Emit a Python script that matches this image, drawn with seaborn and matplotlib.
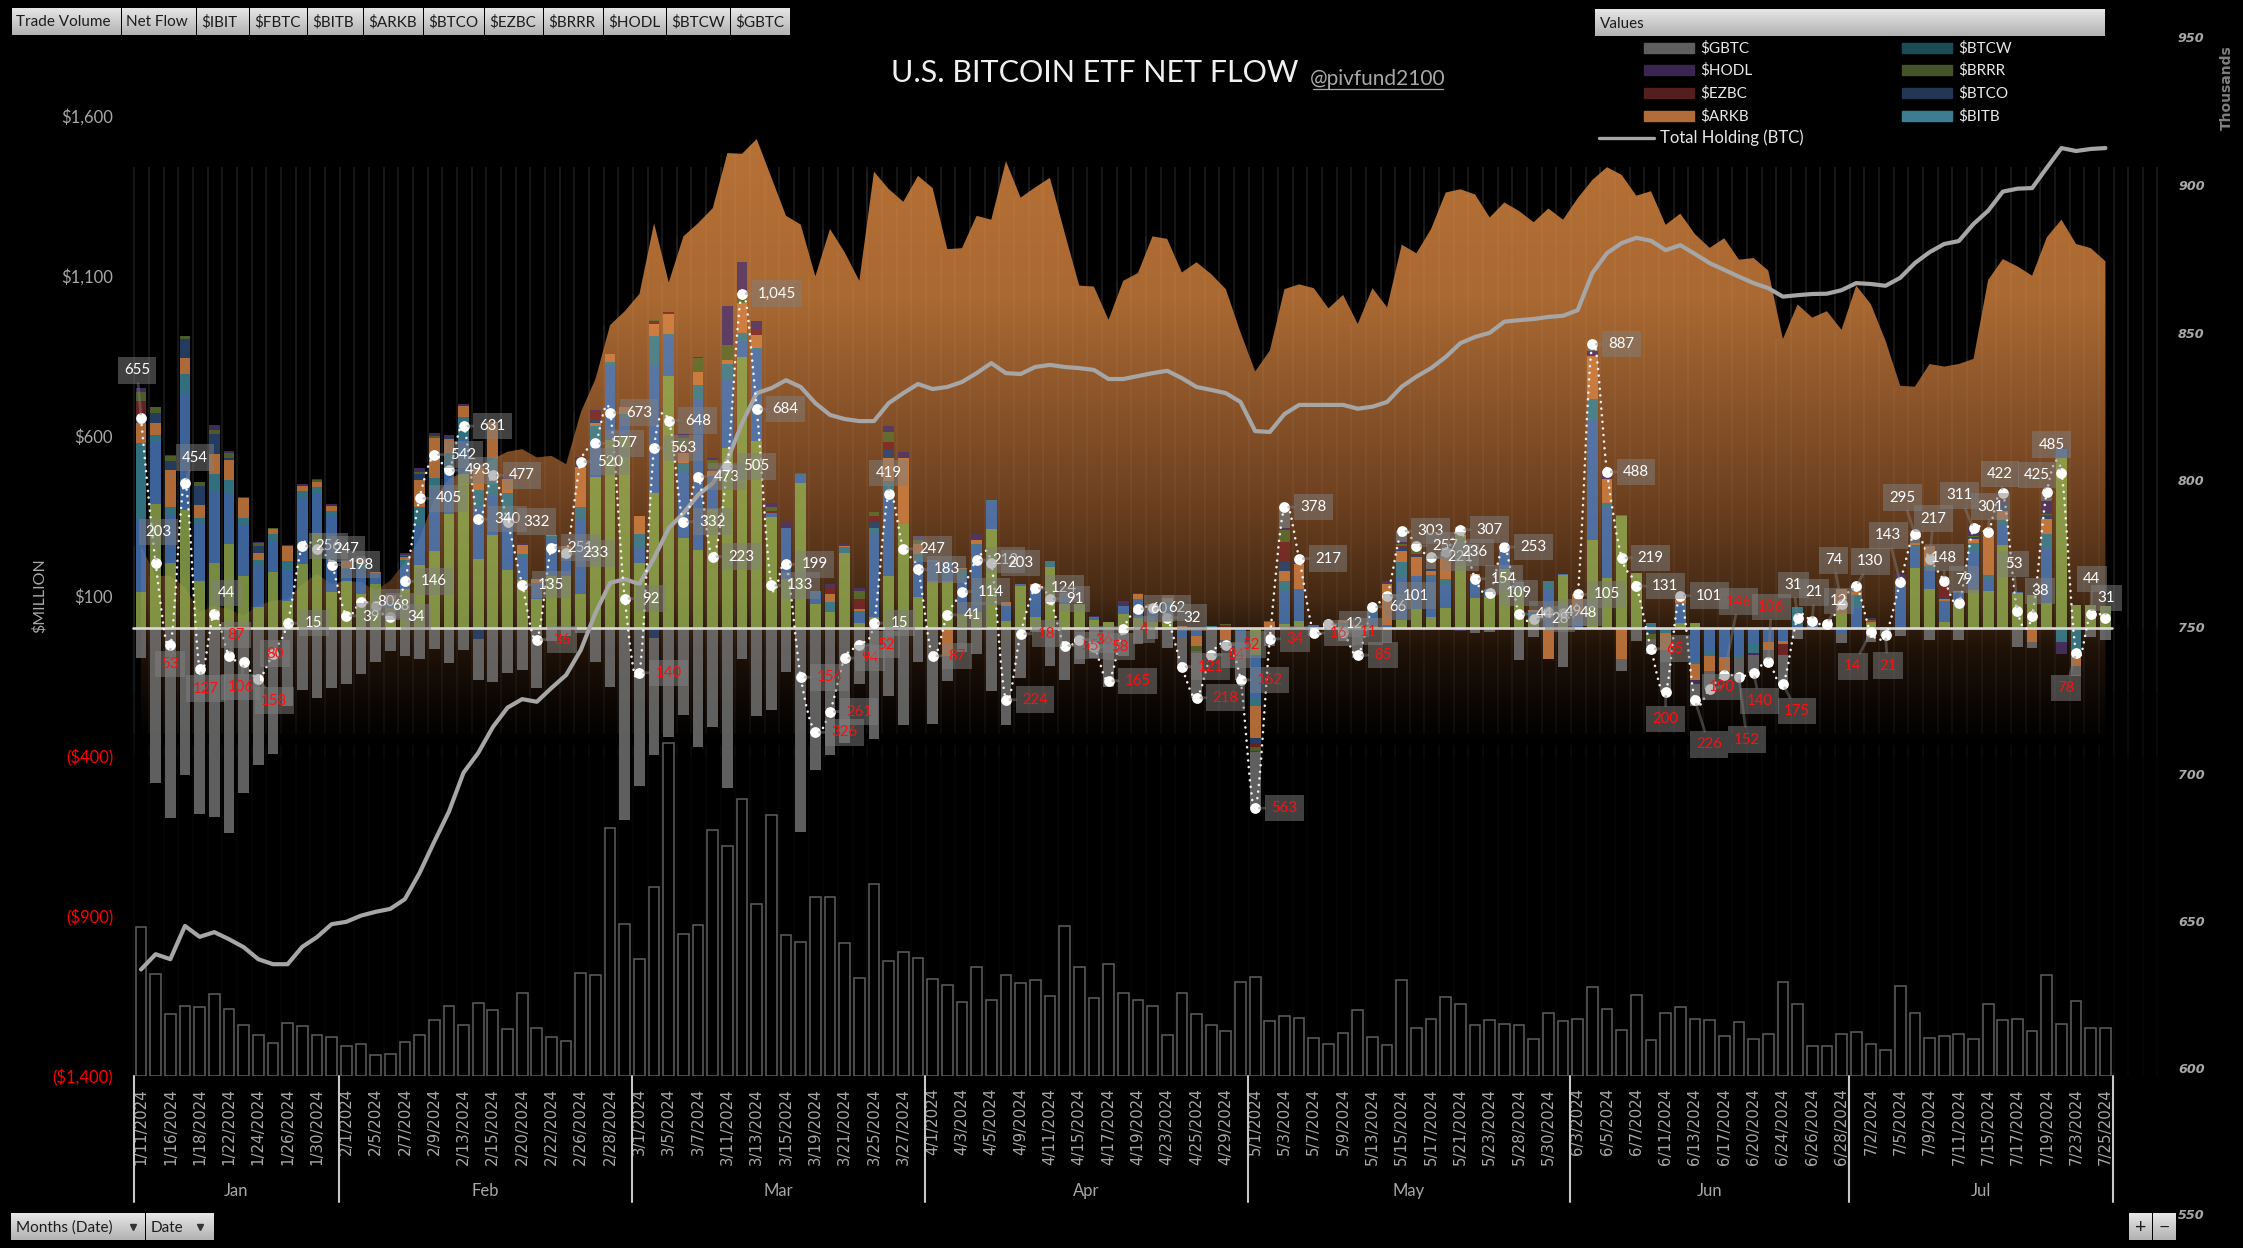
#!/usr/bin/env python
"""
U.S. Bitcoin ETF net flow dashboard, values read off the picture.
"""
# Third-party
import matplotlib

matplotlib.use("Agg")
import matplotlib.pyplot as plt
import numpy as np
import seaborn as sns
from matplotlib.patches import PathPatch, Rectangle
from matplotlib.path import Path

# One bar per trading day, 1/11/2024 to 7/25/2024; every second day is labelled
tick_dates = [
    "1/11", "1/16", "1/18", "1/22", "1/24", "1/26", "1/30",
    "2/1", "2/5", "2/7", "2/9", "2/13", "2/15", "2/20", "2/22", "2/26", "2/28",
    "3/1", "3/5", "3/7", "3/11", "3/13", "3/15", "3/19", "3/21", "3/25", "3/27",
    "4/1", "4/3", "4/5", "4/9", "4/11", "4/15", "4/17", "4/19", "4/23", "4/25", "4/29",
    "5/1", "5/3", "5/7", "5/9", "5/13", "5/15", "5/17", "5/21", "5/23", "5/28", "5/30",
    "6/3", "6/5", "6/7", "6/11", "6/13", "6/17", "6/20", "6/24", "6/26", "6/28",
    "7/2", "7/5", "7/9", "7/11", "7/15", "7/17", "7/19", "7/23", "7/25",
]
months = ["Jan", "Feb", "Mar", "Apr", "May", "Jun", "Jul"]
month_starts = [0, 14, 34, 54, 76, 98, 117, 135]

ibit = [
    112, 386, 204, 370, 148, 203, 262, 161, 66, 174,
    84, 200, 298, 114, 148, 106, 137, 62, 122, 197,
    240, 357, 480, 217, 290, 182, 150, 92, 162, 162,
    107, 472, 589, 600, 203, 421, 788, 280, 243, 371,
    561, 848, 585, 346, 153, 452, 75, 49, 234, 17,
    33, 161, 325, 98, 148, 148, 44, 49, 309, 21,
    132, 33, 192, 75, 75, 26, 18, 44, 30, 18,
    30, 0, 0, 0, 0, 0, -85, 0, 12, 22,
    0, 8, 5, 8, 6, 0, 25, 59, 35, 64,
    290, 93, 98, 184, 130, 30, 0, 165, 0, 275,
    156, 350, 168, 0, 0, 15, 17, 0, 0, 0,
    0, 0, 0, 0, 0, 12, 47, 0, 15, 0,
    0, 186, 122, 20, 83, 118, 117, 258, 110, 102,
    77, 531, 72, 70, 70,
]
fbtc = [
    227, 196, 148, 360, 177, 223, 156, 158, 127, 99,
    96, 206, 120, 236, 36, 83, 36, 16, 73, 125,
    190, 145, 110, 158, 125, 150, 70, 50, 115, 75,
    235, 120, 233, 55, 49, 402, 126, 206, 473, 104,
    215, 49, 285, 14, 160, 23, 42, 0, 0, 31,
    263, 270, 0, 112, 64, 59, 114, 208, 88, 47,
    5, 94, 0, 34, 0, 0, 0, 26, 60, 45,
    40, -28, -26, 0, 0, -70, -130, 0, 104, 101,
    9, 0, 5, 0, 40, 9, 130, 102, 122, 67,
    0, 55, 23, 52, 10, 15, 120, 5, 38, 378,
    220, 2, 0, 0, 0, 64, -104, -76, -90, -84,
    -47, -44, -40, 5, 21, 0, -20, 62, 0, 3,
    144, 64, 62, 65, 29, 118, 34, 62, 1, 0,
    174, 28, 0, 0, 0,
]
bitb = [
    238, 22, 25, 65, 19, 55, 44, 25, 18, 21,
    29, 21, 23, 16, 5, 10, 0, 5, 16, 55,
    40, 45, 70, 55, 115, 90, 10, 0, 10, 0,
    35, 40, 10, 15, 42, 90, 5, 29, 42, 0,
    50, 26, 5, 0, 0, 5, 0, 31, 18, 5,
    15, 28, 0, 21, 0, 0, 26, 5, 3, 0,
    0, 0, 18, 0, 0, 7, 0, 0, 0, 0,
    10, 0, 0, 7, 0, 0, -28, 0, 31, 0,
    0, 0, 5, 0, 15, 0, 52, 0, 10, 21,
    0, 0, 0, 0, 0, 5, 26, 0, 2, 62,
    16, 0, 0, 15, -15, 0, -8, -10, 0, -8,
    -31, 0, 0, 60, 0, 0, 0, 41, 0, 0,
    0, 9, 10, 0, 0, 31, 16, 16, 0, 0,
    44, -44, -73, 0, 0,
]
arkb = [
    65, 38, 117, 49, 41, 62, 62, 63, 24, 15,
    48, 18, 16, 16, 21, 21, 2, 21, 10, 85,
    125, 45, 35, 70, 115, 45, 28, 10, 5, 20,
    125, 10, 25, 22, 57, 36, 62, 33, 42, 16,
    13, 94, 42, 0, 0, 0, 0, 26, 5, 5,
    0, 72, 206, 31, 0, -86, 5, 13, 0, 12,
    0, 10, 0, 0, 0, 0, 0, 0, 15, 12,
    15, 7, -31, 0, -36, 0, -100, 18, 31, 76,
    0, 4, 10, 0, 5, 128, 35, 62, 10, 68,
    0, 21, 0, 0, 5, 5, -98, 0, 65, 134,
    73, -97, 5, 0, -55, 10, -52, -48, -45, 0,
    0, -26, -10, 0, 0, 0, 74, 10, 5, 0,
    0, 8, 61, 5, 5, 10, 120, 29, 0, -44,
    45, 0, -47, 3, 0,
]
btco = [
    17, 30, 28, 59, 58, 62, 8, 0, 21, 0,
    0, 0, 0, 0, 0, 5, 0, 0, 5, 20,
    0, 3, 2, -35, 0, 0, 0, 0, 0, 0,
    15, 10, 0, 0, 0, -30, 0, 0, 0, 0,
    0, 0, 0, 0, 0, 0, 0, 0, 3, 0,
    19, 25, 0, 0, 0, 0, 0, 0, 0, 0,
    0, 0, 0, 0, 0, 0, 0, 0, 0, 0,
    0, 0, 0, 0, 4, 0, -15, 0, 31, 0,
    0, 0, 0, 0, 0, 0, 10, 4, 5, 0,
    0, 0, 0, 0, 0, 0, 0, 0, 0, 5,
    0, 0, 0, -18, 0, 0, 0, 0, 0, 0,
    0, 0, 0, 0, 0, 0, 0, 0, 0, 0,
    0, 0, 0, 5, 0, 4, 0, 30, 0, 0,
    12, 8, 0, 0, 0,
]
ezbc = [
    50, 0, 0, 0, 0, 0, 0, 0, 0, 0,
    0, 0, 0, 0, 0, 0, 0, 0, 0, 0,
    0, 0, 0, 0, 0, 0, 0, 0, 0, 0,
    0, 22, 0, 0, 3, 9, 5, 12, 0, 5,
    0, 0, 17, 5, 0, 0, 0, 21, 0, 33,
    19, 25, 0, 0, 0, 0, 0, 0, 0, 0,
    0, 0, 0, 0, 0, 0, 0, 0, 0, 0,
    0, 0, 0, 0, 4, 0, -15, 0, 60, 0,
    0, 0, 0, 0, 0, 0, 5, 4, 0, 0,
    0, 0, 0, 0, 0, 0, 0, 0, 0, 0,
    0, 0, 0, 0, 0, 0, 0, 0, 0, 0,
    0, 0, -35, 0, 0, 0, 0, 0, 0, 0,
    0, 0, 0, 42, 0, 4, 0, 10, 0, 0,
    0, 0, 0, 0, 0,
]
brrr = [
    29, 18, 15, 9, 12, 14, 14, 0, 10, 5,
    0, 0, 5, 0, 0, 0, 0, 0, 3, 5,
    6, 0, 0, 0, 0, 0, 0, 0, 0, 0,
    0, 0, 0, 0, 0, 3, 0, 33, 43, 30,
    44, 30, 0, 12, 0, 4, 0, 0, 0, 26,
    12, 30, 0, 13, 0, 0, 0, 0, 0, 0,
    0, 0, 0, 0, 0, 0, 0, 0, 0, 0,
    0, 0, -15, 0, 4, 0, -10, 3, 36, 0,
    0, 0, 0, 0, 0, 0, 5, 20, 0, 0,
    0, 0, 0, 0, 0, 0, 0, 0, 0, 0,
    0, 0, 0, -15, 0, 0, 0, 0, 0, 0,
    0, 0, 0, 0, 0, 0, 0, 0, 5, 0,
    0, 0, 0, 0, 0, 4, 0, 0, 0, 0,
    5, 0, 0, 0, 0,
]
hodl = [
    11, 0, 5, 0, 0, 15, 8, 2, 4, 0,
    2, 5, 5, 5, 3, 0, 0, 2, 4, 14,
    7, 8, 2, 1, 0, 5, 8, 0, 0, 0,
    18, 8, 0, 0, 0, 0, 0, 12, 3, 6,
    122, 96, 24, 13, 22, 0, 0, 9, 4, 7,
    0, 20, 18, 13, 0, 0, 0, 18, 0, 0,
    0, 0, 0, 0, 0, 3, 0, 15, 5, 0,
    0, 0, 0, 0, 0, 0, 0, 0, 8, 18,
    0, 0, 0, 0, 0, 10, 8, 6, 2, 0,
    -8, 0, 0, 0, 0, 0, 0, 0, 0, 12,
    23, 0, 0, 0, 0, 0, -12, 0, 0, 0,
    -5, 0, 0, 0, 0, 0, 0, 0, 5, 0,
    25, 0, 0, 11, 0, 22, 0, 17, 0, 0,
    41, -38, 0, 0, 0,
]
btcw = [
    1, 0, 0, 0, 0, 0, 0, 0, 0, 0,
    0, 0, 0, 0, 0, 0, 0, 0, 0, 0,
    0, 0, 0, 0, 0, 0, 0, 0, 0, 0,
    0, 0, 0, 0, 0, 0, 2, 0, 0, 0,
    0, 0, 0, 0, 0, 0, 0, 0, 0, 0,
    0, 0, 0, 0, 0, 0, 0, 0, 0, 0,
    0, 0, 0, 0, 0, 0, 0, 0, 0, 0,
    0, 0, 0, 0, 0, 0, -5, 0, 0, 0,
    0, 0, 0, 0, 0, 0, 0, 0, 0, 0,
    0, 0, 0, 0, 0, 0, 0, 0, 0, 0,
    0, 0, 0, 0, 0, 0, 0, 0, 0, 0,
    0, 0, 0, 0, 0, 0, 0, 0, 0, 0,
    0, 0, 0, 0, 0, 0, 0, 0, 0, 0,
    0, 0, 0, 0, 0,
]
gbtc = [
    -95, -484, -594, -459, -581, -590, -641, -515, -428, -394,
    -243, -194, -220, -189, -174, -145, -107, -72, -87, -96,
    -66, -110, -68, -126, -168, -140, -131, -188, -41, -24,
    -15, -105, -184, -600, -494, -368, -340, -273, -373, -309,
    -500, -98, -274, -257, -136, -638, -443, -397, -358, -176,
    -346, -212, -302, -105, -299, -80, -75, -81, -197, -304,
    -155, -13, -119, -164, -111, -94, -183, -89, -50, -33,
    -63, -100, -146, -91, -28, -92, -175, -55, 65, 0,
    -25, 0, -41, -93, 0, -46, 33, 0, 37, 16,
    25, -15, -12, 17, -101, -27, 0, -122, 0, 21,
    0, -36, -42, -47, -130, 12, -67, -56, -11, -60,
    -57, -36, -90, -34, 0, 0, -27, 17, -44, -24,
    -26, 28, -38, 0, -38, 0, 14, 0, -58, -20,
    27, 0, -30, -29, -39,
]
net_flow = [
    655, 203, -53, 454, -127, 44, -87, -106, -158, -80,
    15, 256, 247, 198, 39, 80, 68, 34, 146, 405,
    542, 493, 631, 340, 477, 332, 135, -36, 251, 233,
    520, 577, 673, 92, -140, 563, 648, 332, 473, 223,
    505, 1045, 684, 133, 199, -154, -326, -261, -94, -52,
    15, 419, 247, 183, -87, 41, 114, 212, 203, -224,
    -18, 124, 91, -55, -36, -58, -165, -4, 60, 62,
    32, -121, -218, -84, -52, -162, -563, -34, 378, 217,
    -16, 12, -11, -85, 66, 101, 303, 257, 221, 236,
    307, 154, 109, 253, 44, 28, 49, 48, 105, 887,
    488, 219, 131, -65, -200, 101, -226, -190, -146, -152,
    -140, -106, -175, 31, 21, 12, 74, 130, -14, -21,
    143, 295, 217, 148, 79, 311, 301, 422, 53, 38,
    425, 485, -78, 44, 31,
]
# Trade volume, $ billions
volume = [
    4.48, 3.07, 1.87, 2.11, 2.08, 2.47, 2.02, 1.54, 1.24, 1.00,
    1.60, 1.51, 1.24, 1.18, 0.91, 0.97, 0.64, 0.67, 1.03, 1.24,
    1.69, 2.11, 1.54, 2.20, 1.99, 1.42, 2.50, 1.45, 1.18, 1.06,
    3.10, 3.04, 7.45, 4.57, 3.52, 5.68, 9.98, 4.27, 4.54, 7.39,
    6.91, 8.32, 5.17, 7.84, 4.24, 4.03, 5.38, 5.38, 4.00, 2.95,
    5.77, 3.46, 3.73, 3.55, 2.92, 2.74, 2.23, 3.28, 2.29, 3.04,
    2.80, 2.89, 2.41, 4.51, 3.28, 2.35, 3.37, 2.50, 2.29, 2.11,
    1.24, 2.50, 1.87, 1.54, 1.36, 2.83, 2.98, 1.66, 1.81, 1.75,
    1.15, 0.97, 1.30, 1.99, 1.18, 0.94, 2.89, 1.45, 1.72, 2.38,
    2.17, 1.54, 1.69, 1.57, 1.54, 1.12, 1.90, 1.66, 1.72, 2.68,
    2.02, 1.39, 2.44, 1.09, 1.90, 2.08, 1.72, 1.69, 1.21, 1.63,
    1.12, 1.27, 2.83, 2.17, 0.91, 0.91, 1.27, 1.33, 0.97, 0.79,
    2.71, 1.90, 1.15, 1.21, 1.27, 1.12, 2.17, 1.69, 1.72, 1.36,
    3.04, 1.57, 2.26, 1.45, 1.45,
]
# Total holding, thousands of BTC
holding = [
    633.5, 638.7, 637.0, 648.3, 644.6, 646.2, 643.8, 641.1, 637.0, 635.3,
    635.3, 641.2, 644.5, 648.9, 649.7, 651.8, 653.1, 654.1, 657.4, 666.3,
    676.9, 687.1, 700.4, 707.1, 715.9, 722.5, 725.4, 724.5, 729.2, 733.6,
    742.1, 754.7, 764.9, 766.2, 764.5, 773.4, 783.5, 788.6, 794.8, 798.8,
    806.7, 819.2, 829.4, 831.1, 833.8, 831.5, 826.0, 822.0, 820.6, 819.9,
    819.9, 826.0, 829.4, 832.5, 830.8, 831.5, 833.2, 836.2, 839.6, 836.2,
    835.9, 838.3, 839.0, 838.3, 837.9, 837.3, 834.2, 834.2, 835.2, 836.2,
    837.0, 834.5, 831.5, 830.5, 829.4, 826.4, 816.5, 816.2, 822.3, 825.4,
    825.4, 825.4, 825.4, 824.1, 824.8, 826.4, 831.6, 835.0, 837.9, 841.7,
    846.4, 848.5, 849.9, 853.7, 854.2, 854.6, 855.3, 855.7, 857.6, 870.2,
    877.0, 880.4, 882.2, 881.2, 878.0, 879.7, 876.7, 873.6, 871.3, 869.0,
    866.8, 865.1, 862.2, 862.7, 863.1, 863.2, 864.4, 866.8, 866.5, 865.9,
    868.6, 873.6, 877.3, 880.1, 881.1, 886.9, 891.4, 897.9, 898.9, 899.1,
    906.0, 912.7, 911.7, 912.4, 912.7,
]
# Orange backdrop, in left axis units
backdrop = [
    257, 163, 163, 127, 49, 70, 59, 38, 70, 85,
    90, 137, 169, 137, 148, 143, 117, 148, 205, 278,
    403, 466, 486, 507, 528, 551, 559, 533, 538, 512,
    674, 778, 947, 990, 1044, 1265, 1080, 1224, 1265, 1312,
    1484, 1482, 1528, 1408, 1288, 1261, 1099, 1247, 1174, 1085,
    1426, 1372, 1332, 1413, 1375, 1184, 1187, 1288, 1276, 1459,
    1345, 1377, 1407, 1236, 1070, 1067, 963, 1085, 1109, 1224,
    1216, 1111, 1143, 1106, 1059, 924, 802, 867, 1059, 1074,
    1062, 999, 1041, 950, 1062, 1002, 1198, 1171, 1247, 1361,
    1371, 1355, 1283, 1330, 1303, 1268, 1311, 1276, 1343, 1400,
    1440, 1416, 1351, 1365, 1260, 1295, 1231, 1188, 1218, 1151,
    1156, 1117, 903, 1011, 970, 990, 932, 1070, 1012, 898,
    757, 754, 825, 817, 825, 841, 1088, 1153, 1130, 1101,
    1221, 1276, 1200, 1187, 1146,
]

# Setup
W, H = 2243, 1248
LEFT_PX, RIGHT_PX, TOP_PX, BOTTOM_PX = 120, 2172, 116, 1076
FIRST_BAR_PX, BAR_STEP_PX = 141, 14.66
FONT = "Lato"
GREY = "#a8a8a8"

sns.set_theme(
    style="dark",
    rc={
        "figure.facecolor": "black",
        "axes.facecolor": "black",
        "axes.grid": False,
        "savefig.facecolor": "black",
    },
)
plt.rcParams["font.family"] = [FONT, "DejaVu Sans"]

days = list(range(len(net_flow)))

# Label offsets from the dots in pixels, anything not listed sits to the right
label_shift = {
    0: (-4, -48), 1: (3, -31), 2: (0, 19), 3: (10, -25), 4: (6, 20), 5: (12, -21),
    6: (7, -21), 7: (-3, 25), 8: (16, 22), 9: (2, 0), 10: (26, 0), 11: (26, 0),
    14: (25, 1), 15: (25, 0), 16: (25, 0), 17: (26, 0), 27: (25, 0), 33: (26, 0),
    41: (35, 0), 48: (25, 0), 49: (26, 0), 50: (26, 0), 51: (0, -21), 54: (24, 0),
    55: (25, 0), 60: (26, 0), 62: (25, 0), 63: (25, 0), 64: (25, 0), 65: (26, 0),
    67: (21, 0), 68: (21, 0), 69: (24, 0), 70: (25, 0), 73: (25, 0), 74: (25, 0),
    77: (25, 0), 80: (25, 0), 81: (26, 0), 82: (25, 0), 83: (25, 0), 84: (25, 0),
    94: (25, 0), 95: (26, 0), 96: (25, 0), 97: (25, 0), 103: (24, 0), 104: (0, 27),
    106: (14, 44), 107: (12, -2), 108: (14, -73), 109: (8, 63), 110: (6, 28),
    111: (3, -55), 112: (14, 27), 113: (-4, -33), 114: (2, -29), 115: (12, -23),
    116: (-8, -44), 117: (14, -25), 118: (-18, 34), 119: (2, 31), 120: (-12, -47),
    121: (-12, -36), 122: (4, -40), 123: (0, -23), 124: (5, -23), 125: (-14, -33),
    126: (2, -25), 127: (-3, -19), 128: (-4, -47), 129: (8, -25), 130: (-10, -17),
    131: (-10, -28), 132: (-10, 35), 133: (1, -35), 134: (1, -20),
}


def smooth_path(xs, ys):
    """
    Bezier path through the points, like a smoothed spreadsheet line.
    """
    pts = np.column_stack([xs, ys]).astype(float)
    verts = [pts[0]]
    codes = [Path.MOVETO]
    for i in range(len(pts) - 1):
        before = pts[max(i - 1, 0)]
        after = pts[min(i + 2, len(pts) - 1)]
        verts += [
            pts[i] + (pts[i + 1] - before) / 6,
            pts[i + 1] - (after - pts[i]) / 6,
            pts[i + 1],
        ]
        codes += [Path.CURVE4] * 3
    return Path(verts, codes)


def add_button(axis, x0, x1, y0, y1, text="", size=11, ha="left"):
    """
    Draw one of the grey pivot chart buttons, in pixel coordinates.
    """
    fade = np.linspace(0.9, 0.7, 32).reshape(-1, 1)
    axis.imshow(
        fade,
        extent=(x0, x1, y1, y0),
        aspect="auto",
        cmap="gray",
        vmin=0,
        vmax=1,
        zorder=2,
    )
    if text:
        x_text = x0 + 5 if ha == "left" else (x0 + x1) / 2
        axis.text(
            x_text, (y0 + y1) / 2 + 1, text, color="#1c1c1c", fontsize=size,
            ha=ha, va="center", zorder=3,
        )


def hide_frame(axis):
    """
    Drop the frame and the grid of an axes.
    """
    axis.grid(False)
    for spine in axis.spines.values():
        spine.set_visible(False)


fig = plt.figure(figsize=(W / 100, H / 100), dpi=100)
ax = fig.add_axes(
    [
        LEFT_PX / W,
        (H - BOTTOM_PX) / H,
        (RIGHT_PX - LEFT_PX) / W,
        (BOTTOM_PX - TOP_PX) / H,
    ]
)

# Thin stripes between the days, they die away towards the floor of the chart
stripes = np.arange(0, 139) - 0.45
ax.vlines(stripes, 0, 1440, color="white", alpha=0.09, linewidth=1.4, zorder=0.5)
ax.vlines(stripes, -200, 0, color="white", alpha=0.06, linewidth=1.4, zorder=0.5)
ax.vlines(stripes, -400, -200, color="white", alpha=0.04, linewidth=1.4, zorder=0.5)
ax.vlines(stripes, -1400, -400, color="white", alpha=0.025, linewidth=1.4, zorder=0.5)

# Backdrop: a vertical fade clipped to the outline of the series
fade_values = [1600, 1535, 1035, 722, 410, 98, -60, -250, -365]
fade_colors = np.array(
    [
        [182, 113, 54], [182, 113, 54], [170, 105, 50], [140, 85, 42], [110, 65, 32],
        [70, 42, 20], [32, 18, 8], [10, 6, 4], [0, 0, 0],
    ]
)
rows = np.linspace(1600, -365, 400)
fade = np.stack(
    [np.interp(-rows, -np.array(fade_values), fade_colors[:, c]) for c in range(3)],
    axis=-1,
)[:, None, :] / 255
outline = ax.fill_between(days, backdrop, -365, facecolor="none", edgecolor="none")
image = ax.imshow(
    fade, extent=(-1, 136, -365, 1600), aspect="auto", zorder=1, interpolation="bilinear"
)
image.set_clip_path(outline.get_paths()[0], transform=ax.transData)
ax.vlines(
    stripes[:135], -330, np.array(backdrop), color="white", alpha=0.04, linewidth=1.4, zorder=1.5
)

# Stacked flows, positive and negative parts build away from zero separately
stack = [
    (ibit, "#94af51"),
    (fbtc, "#4b7dc2"),
    (bitb, "#3f8c9f"),
    (arkb, "#d98545"),
    (btco, "#2c4a78"),
    (ezbc, "#7f2a2a"),
    (brrr, "#5f7430"),
    (hodl, "#4f3570"),
    (btcw, "#1f5f70"),
    (gbtc, "#787878"),
]
up = np.zeros(len(days))
down = np.zeros(len(days))
for values, color in stack:
    values = np.array(values, dtype=float)
    start = np.where(values >= 0, up, down)
    sns.barplot(
        x=days,
        y=values,
        bottom=start,
        color=color,
        saturation=1,
        width=0.73,
        alpha=0.8,
        linewidth=0,
        errorbar=None,
        zorder=3,
        ax=ax,
    )
    up = up + np.clip(values, 0, None)
    down = down + np.clip(values, None, 0)

ax.axhline(0, color="#d8d8d8", linewidth=1.9, zorder=4, xmin=(133 - 120) / 2052, xmax=(2112 - 120) / 2052)

ax.set_ylim(-1400, 1600)
left_ticks = [-1400, -900, -400, 100, 600, 1100, 1600]
left_labels = ["($1,400)", "($900)", "($400)", "$100", "$600", "$1,100", "$1,600"]
ax.set_yticks(left_ticks, left_labels)
for label, value in zip(ax.get_yticklabels(), left_ticks):
    label.set_color("#ff0000" if value < 0 else GREY)
ax.tick_params(axis="y", length=0, pad=5, labelsize=12)
ax.set_xticks(days[::2], [f"{d}/2024" for d in tick_dates])
ax.tick_params(axis="x", length=0, pad=8.6, labelsize=10.8, labelcolor=GREY, rotation=90)
for label in ax.get_xticklabels():
    label.set_fontfamily("DejaVu Sans")
ax.set_xlabel("")
ax.set_ylabel("")
hide_frame(ax)

# Trade volume sits on the floor of the chart with its own scale
ax_volume = ax.twinx()
sns.barplot(
    x=days,
    y=volume,
    fill=False,
    color="#5e5e5e",
    saturation=1,
    width=0.73,
    linewidth=1.1,
    errorbar=None,
    ax=ax_volume,
)
ax_volume.set_ylim(0, 28.8)
ax_volume.set_yticks([])
ax_volume.set_ylabel("")
hide_frame(ax_volume)

# Total holding against the right axis
ax_right = ax.twinx()
sns.lineplot(
    x=days, y=holding, color="#a6a6a6", linewidth=3.0, errorbar=None, ax=ax_right, zorder=5
)
ax_right.set_ylim(597.3, 923.6)
ax_right.set_yticks([600, 650, 700, 750, 800, 850, 900])
ax_right.tick_params(axis="y", length=0, pad=4.3, labelsize=9.2, labelcolor=GREY)
for label in ax_right.get_yticklabels():
    label.set_fontfamily("DejaVu Sans")
    label.set_fontweight("bold")
    label.set_fontstyle("italic")
for value in [950, 550]:
    ax_right.text(
        1.0029, value, str(value), transform=ax_right.get_yaxis_transform(),
        color=GREY, fontsize=9.2, family="DejaVu Sans", weight="bold", style="italic",
        va="center", clip_on=False,
    )
ax_right.set_ylabel("")
hide_frame(ax_right)

# Net flow: dotted smooth line, dots and labels on top of everything
ax_flow = ax.twinx()
ax_flow.set_ylim(-1400, 1600)
ax_flow.set_yticks([])
ax_flow.add_patch(
    PathPatch(
        smooth_path(days, net_flow),
        facecolor="none",
        edgecolor="#f2f2f2",
        linewidth=1.9,
        linestyle=(0, (0.01, 2.5)),
        capstyle="round",
        zorder=6,
    )
)
sns.scatterplot(
    x=days, y=net_flow, color="white", s=60, linewidth=0, zorder=7, ax=ax_flow
)
ax_flow.set_ylabel("")
hide_frame(ax_flow)
for day, flow in zip(days, net_flow):
    dx, dy = label_shift.get(day, (29, 0))
    ax_flow.annotate(
        f"{abs(flow):,}",
        xy=(day, flow),
        xytext=(dx * 0.72, -dy * 0.72),
        textcoords="offset points",
        color="#ff1010" if flow < 0 else "white",
        fontsize=10.8,
        ha="center",
        va="center",
        zorder=8,
        bbox=dict(boxstyle="square,pad=0.42", facecolor="#808080", edgecolor="none", alpha=0.5),
        arrowprops=dict(arrowstyle="-", color="#808080", alpha=0.45, linewidth=2, shrinkA=0, shrinkB=3),
    )

x_limits = (
    (LEFT_PX - FIRST_BAR_PX) / BAR_STEP_PX,
    (RIGHT_PX - FIRST_BAR_PX) / BAR_STEP_PX,
)
ax.set_xlim(*x_limits)

# Month brackets under the date labels
month_axis = ax.get_xaxis_transform()
bracket_depth = -126 / (BOTTOM_PX - TOP_PX)
for start in month_starts:
    ax.plot(
        [start - 0.5, start - 0.5], [0, bracket_depth], transform=month_axis,
        color="#c8c8c8", linewidth=1.5, clip_on=False, zorder=5,
    )
for name, start, stop in zip(months, month_starts, month_starts[1:]):
    ax.text(
        (start + stop - 1) / 2, -115 / (BOTTOM_PX - TOP_PX), name, transform=month_axis,
        color=GREY, fontsize=12, ha="center", va="center", clip_on=False,
    )

# Everything around the plot is laid out in picture pixels
overlay = fig.add_axes([0, 0, 1, 1], zorder=20)
overlay.patch.set_alpha(0)
overlay.axis("off")

button_edges = [11, 121, 196, 249, 307, 363, 423, 484, 543, 603, 666, 730, 790]
button_names = [
    "Trade Volume", "Net Flow", "$IBIT", "$FBTC", "$BITB", "$ARKB",
    "$BTCO", "$EZBC", "$BRRR", "$HODL", "$BTCW", "$GBTC",
]
for x0, x1, name in zip(button_edges, button_edges[1:], button_names):
    add_button(overlay, x0 + 0.5, x1 - 0.5, 8, 35, name.replace("$", r"\$"))

add_button(overlay, 1595, 2105, 9, 36, "Values")
add_button(overlay, 11, 144.5, 1213, 1240, "Months (Date)")
add_button(overlay, 145.5, 213, 1213, 1240, "Date")
add_button(overlay, 2129, 2152, 1213, 1240, "+", size=14, ha="center")
add_button(overlay, 2153, 2176, 1213, 1240, "\u2212", size=14, ha="center")
for x_mark in [133, 200]:
    overlay.plot([x_mark], [1227], marker="v", markersize=5, color="#333333", zorder=4)

overlay.text(1095, 73, "U.S. BITCOIN ETF NET FLOW", color="#f0f0f0", fontsize=22, ha="center", va="center")
overlay.text(1378, 79, "@pivfund2100", color=GREY, fontsize=15, ha="center", va="center")
overlay.plot([1313, 1443], [89, 89], color=GREY, linewidth=0.9)

legend_left = [
    ("$GBTC", "#5f5f5f"), ("$HODL", "#3a2650"), ("$EZBC", "#551e1e"), ("$ARKB", "#b26c3a"),
]
legend_right = [
    ("$BTCW", "#1c4b58"), ("$BRRR", "#445426"), ("$BTCO", "#233755"), ("$BITB", "#3c7d91"),
]
for column, x_swatch in [(legend_left, 1644), (legend_right, 1902)]:
    for (name, color), y_row in zip(column, [48, 70, 93, 116]):
        overlay.add_patch(Rectangle((x_swatch, y_row - 5), 50, 10, color=color))
        overlay.text(
            x_swatch + 56, y_row, name.replace("$", r"\$"), color="#e8e8e8",
            fontsize=11, va="center",
        )
overlay.plot([1599, 1654], [138, 138], color="#a6a6a6", linewidth=2.4)
overlay.text(1660, 138, "Total Holding (BTC)", color="#e8e8e8", fontsize=12, va="center")

overlay.text(40, 596, "$MILLION".replace("$", r"\$"), color=GREY, fontsize=11.5, rotation=90, ha="center", va="center")
overlay.text(
    2227, 88, "Thousands", color="#808080", fontsize=10, family="DejaVu Sans",
    weight="bold", rotation=90, ha="center", va="center",
)
overlay.set_xlim(0, W)
overlay.set_ylim(H, 0)

fig.savefig("out.png", dpi=100)
